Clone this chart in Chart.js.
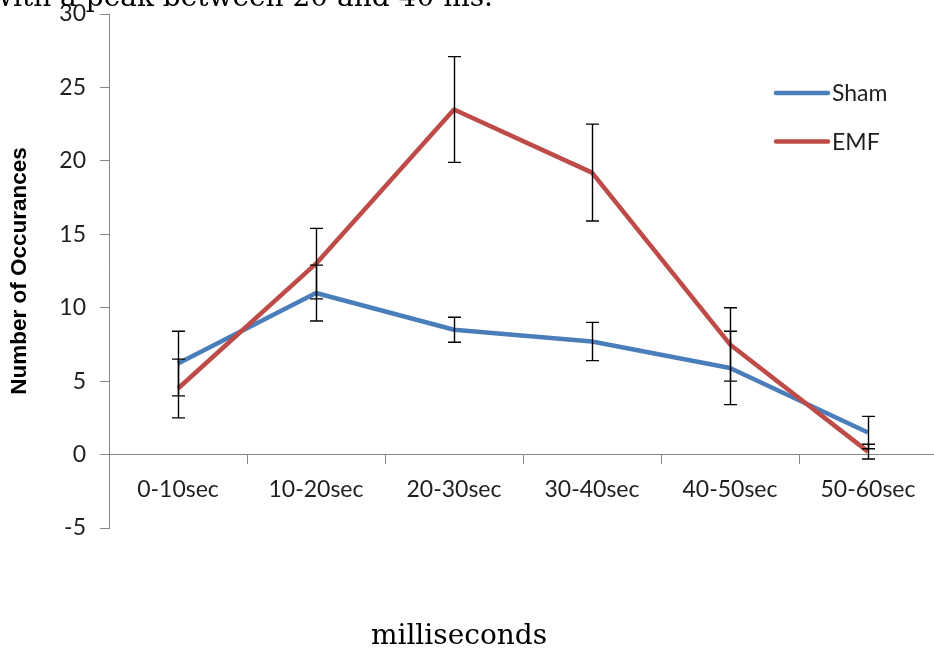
<!DOCTYPE html>
<html>
<head>
<meta charset="utf-8">
<script src="https://cdn.jsdelivr.net/npm/chart.js@4.4.1/dist/chart.umd.min.js"></script>
<style>
  html, body { margin: 0; padding: 0; overflow: hidden; background: #ffffff; }
  #wrap { position: relative; width: 940px; height: 649px; }
</style>
</head>
<body>
<div id="wrap"><canvas id="chart" width="940" height="649"></canvas></div>
<script>
// Time bins
const categories = ['0-10sec', '10-20sec', '20-30sec', '30-40sec', '40-50sec', '50-60sec'];

// Mean occurrences per bin and their error-bar half-widths
const shamValues = [6.2, 11.0, 8.5, 7.7, 5.9, 1.5];
const shamErrors = [2.2, 1.9, 0.85, 1.3, 2.5, 1.1];
const emfValues  = [4.5, 13.0, 23.5, 19.2, 7.5, 0.2];
const emfErrors  = [2.0, 2.4, 3.6, 3.3, 2.5, 0.5];

// Value axis range and step
const yMin = -5;
const yMax = 30;
const yStep = 5;

const seriesNames = ['Sham', 'EMF'];
const AXIS_GREY = '#868686';
const TEXT_DARK = '#1f1f1f';

// Vertical error bars with caps, drawn over the lines
const errorBars = {
  id: 'errorBars',
  afterDatasetsDraw(chart) {
    const { ctx, scales: { x, y } } = chart;
    ctx.save();
    ctx.strokeStyle = '#000000';
    ctx.lineWidth = 1.4;
    chart.data.datasets.forEach(ds => {
      ds.errors.forEach((e, i) => {
        const v = ds.data[i];
        const px = Math.round(x.getPixelForValue(i)) + 0.5;
        const top = y.getPixelForValue(v + e);
        const bot = y.getPixelForValue(v - e);
        const cap = 6.5;
        ctx.beginPath();
        ctx.moveTo(px, top); ctx.lineTo(px, bot);
        ctx.moveTo(px - cap, top); ctx.lineTo(px + cap, top);
        ctx.moveTo(px - cap, bot); ctx.lineTo(px + cap, bot);
        ctx.stroke();
      });
    });
    ctx.restore();
  }
};

// Line-sample legend inside the plot on the right, plus the surrounding captions
const overlayText = {
  id: 'overlayText',
  afterDraw(chart) {
    const { ctx } = chart;
    ctx.save();
    // legend
    chart.data.datasets.forEach((ds, i) => {
      const ly = 93 + i * 48.5;
      ctx.strokeStyle = ds.borderColor;
      ctx.lineWidth = 4.5;
      ctx.lineCap = 'round';
      ctx.beginPath();
      ctx.moveTo(776, ly); ctx.lineTo(828, ly);
      ctx.stroke();
      ctx.fillStyle = TEXT_DARK;
      ctx.font = '23px Lato';
      ctx.textAlign = 'left';
      ctx.textBaseline = 'middle';
      ctx.fillText(ds.label, 832, ly + 1);
    });
    // running text line above the figure
    ctx.fillStyle = '#000000';
    ctx.font = '28px "DejaVu Serif"';
    ctx.textAlign = 'left';
    ctx.textBaseline = 'alphabetic';
    ctx.fillText('with a peak between 20 and 40 ms.', -11, 6);
    // caption under the figure
    ctx.textAlign = 'center';
    ctx.fillText('milliseconds', 459, 644);
    ctx.restore();
  }
};

const tickFont = { family: 'Lato', size: 23 };

new Chart(document.getElementById('chart'), {
  type: 'line',
  data: {
    labels: categories,
    datasets: [
      {
        label: seriesNames[0],
        data: shamValues,
        errors: shamErrors,
        borderColor: '#4A7EBB',
        borderWidth: 4.5,
        pointRadius: 0,
        tension: 0,
        borderJoinStyle: 'round',
        order: 1
      },
      {
        label: seriesNames[1],
        data: emfValues,
        errors: emfErrors,
        borderColor: '#BE4B48',
        borderWidth: 4.5,
        pointRadius: 0,
        tension: 0,
        borderJoinStyle: 'round',
        order: 0
      }
    ]
  },
  options: {
    responsive: false,
    animation: false,
    layout: { padding: { top: 14, right: 3, bottom: 121, left: 0 } },
    plugins: {
      legend: { display: false },
      tooltip: { enabled: false }
    },
    scales: {
      x: {
        position: { y: 0 },
        offset: true,
        grid: { offset: true, drawOnChartArea: false, tickLength: 9, color: AXIS_GREY, lineWidth: 1 },
        border: { color: AXIS_GREY, width: 1 },
        ticks: { padding: 12, color: TEXT_DARK, font: tickFont, maxRotation: 0, autoSkip: false }
      },
      y: {
        min: yMin,
        max: yMax,
        afterFit(scale) {
          scale.width = 109;
          scale.paddingTop = 0;
          scale.paddingBottom = 0;
        },
        ticks: { stepSize: yStep, padding: 14, color: TEXT_DARK, font: tickFont },
        grid: { drawOnChartArea: false, tickLength: 9, color: AXIS_GREY, lineWidth: 1 },
        border: { color: AXIS_GREY, width: 1 },
        title: {
          display: true,
          text: 'Number of Occurances',
          color: '#000000',
          font: { family: 'Liberation Sans', size: 22.5, weight: 'bold' },
          padding: { top: 6, bottom: 0 }
        }
      }
    }
  },
  plugins: [errorBars, overlayText]
});
</script>
</body>
</html>
